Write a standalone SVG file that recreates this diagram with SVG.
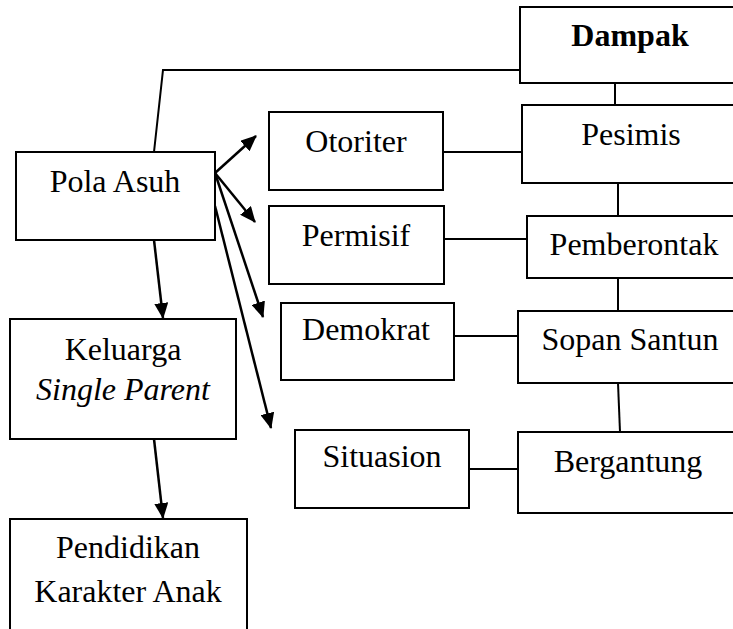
<svg xmlns="http://www.w3.org/2000/svg" width="733" height="629" viewBox="0 0 733 629">
<style>
.box{fill:#fff;stroke:#000;stroke-width:2}
.t{font-family:"Liberation Serif","Times New Roman",serif;font-size:32px;fill:#000;text-anchor:middle}
.b{font-weight:bold}
.i{font-style:italic}
.ln{fill:none;stroke:#000;stroke-width:2}
.ar{fill:none;stroke:#000;stroke-width:2.5}
</style>
<defs>
<marker id="ah" viewBox="0 0 16 14" refX="15" refY="7" markerWidth="16" markerHeight="14" markerUnits="userSpaceOnUse" orient="auto">
<path d="M0,0 L16,7 L0,14 Z" fill="#000"/>
</marker>
</defs>
<rect width="733" height="629" fill="#fff"/>
<g id="connectors">
<polyline class="ln" points="154,152 163,70 520,70"/>
<line class="ar" x1="215" y1="173" x2="256" y2="136" marker-end="url(#ah)"/>
<line class="ar" x1="215" y1="173" x2="255" y2="222" marker-end="url(#ah)"/>
<line class="ar" x1="215" y1="173" x2="263" y2="317" marker-end="url(#ah)"/>
<line class="ar" x1="215" y1="206" x2="271" y2="428" marker-end="url(#ah)"/>
<line class="ar" x1="154" y1="240" x2="163" y2="318" marker-end="url(#ah)"/>
<line class="ar" x1="154" y1="439" x2="163" y2="518" marker-end="url(#ah)"/>
<line class="ln" x1="615" y1="83" x2="615" y2="105"/>
<line class="ln" x1="618" y1="183" x2="618" y2="216"/>
<line class="ln" x1="618" y1="278" x2="618" y2="311"/>
<line class="ln" x1="618" y1="383" x2="620" y2="432"/>
<line class="ln" x1="443" y1="152" x2="522" y2="152"/>
<line class="ln" x1="444" y1="239" x2="527" y2="239"/>
<line class="ln" x1="454" y1="336" x2="518" y2="336"/>
<line class="ln" x1="469" y1="469" x2="523" y2="469"/>
</g>
<g id="pola-asuh">
<rect class="box" x="16" y="152" width="199" height="88"/>
<text class="t" x="115" y="192">Pola Asuh</text>
</g>
<g id="keluarga">
<rect class="box" x="10" y="319" width="226" height="120"/>
<text class="t" x="123" y="360">Keluarga</text>
<text class="t i" x="123" y="400">Single Parent</text>
</g>
<g id="pendidikan">
<rect class="box" x="10" y="519" width="237" height="140"/>
<text class="t" x="128" y="558">Pendidikan</text>
<text class="t" x="128" y="602">Karakter Anak</text>
</g>
<g id="otoriter">
<rect class="box" x="269" y="112" width="174" height="78"/>
<text class="t" x="356" y="152">Otoriter</text>
</g>
<g id="permisif">
<rect class="box" x="269" y="206" width="175" height="78"/>
<text class="t" x="356" y="246">Permisif</text>
</g>
<g id="demokrat">
<rect class="box" x="281" y="303" width="173" height="77"/>
<text class="t" x="366" y="340">Demokrat</text>
</g>
<g id="situasion">
<rect class="box" x="295" y="430" width="174" height="78"/>
<text class="t" x="382" y="467">Situasion</text>
</g>
<g id="dampak">
<rect class="box" x="520" y="7" width="240" height="76"/>
<text class="t b" x="630" y="46">Dampak</text>
</g>
<g id="pesimis">
<rect class="box" x="522" y="105" width="240" height="78"/>
<text class="t" x="631" y="145">Pesimis</text>
</g>
<g id="pemberontak">
<rect class="box" x="527" y="216" width="240" height="62"/>
<text class="t" x="634" y="255">Pemberontak</text>
</g>
<g id="sopan-santun">
<rect class="box" x="518" y="311" width="240" height="72"/>
<text class="t" x="630" y="350">Sopan Santun</text>
</g>
<g id="bergantung">
<rect class="box" x="518" y="432" width="240" height="81"/>
<text class="t" x="628" y="472">Bergantung</text>
</g>
</svg>
